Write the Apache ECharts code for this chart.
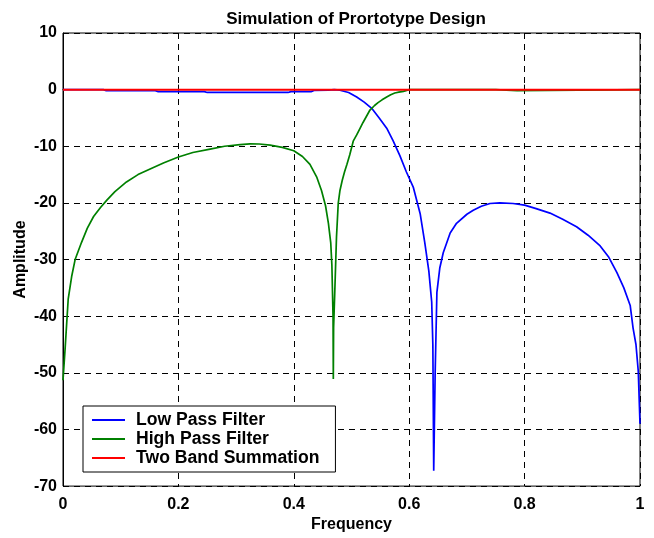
<!DOCTYPE html>
<html>
<head>
<meta charset="utf-8">
<script src="https://cdn.jsdelivr.net/npm/echarts@6/dist/echarts.min.js"></script>
<style>
html,body{margin:0;padding:0;background:#fff;}
#chart{width:654px;height:538px;}
</style>
</head>
<body>
<div id="chart"></div>
<script>
// Low pass filter response
const lpFreq = [0, 0.07, 0.075, 0.16, 0.165, 0.245, 0.25, 0.39, 0.395, 0.43, 0.435, 0.46, 0.47, 0.48, 0.495, 0.509, 0.522, 0.535, 0.548, 0.561, 0.572, 0.584, 0.595, 0.607, 0.619, 0.627, 0.634, 0.639, 0.641, 0.6425, 0.645, 0.648, 0.653, 0.659, 0.671, 0.682, 0.7, 0.711, 0.725, 0.74, 0.757, 0.78, 0.8, 0.82, 0.844, 0.866, 0.89, 0.91, 0.931, 0.946, 0.96, 0.972, 0.983, 0.988, 0.993, 0.997, 1.0];
const lpAmp  = [0, 0, -0.2, -0.2, -0.35, -0.35, -0.5, -0.5, -0.35, -0.35, -0.15, -0.1, 0, -0.1, -0.5, -1.3, -2.2, -3.3, -5, -6.8, -9, -11.7, -14.5, -17.2, -21.9, -27, -32, -37.5, -45, -67.3, -50, -35.8, -31.5, -28.8, -25.3, -23.6, -22, -21.3, -20.6, -20.1, -20, -20.1, -20.4, -21, -21.8, -22.9, -24.2, -25.7, -27.6, -29.6, -32.3, -35, -38.1, -42.1, -45, -49.7, -59];
// High pass filter response
const hpFreq = [0, 0.0035, 0.009, 0.015, 0.021, 0.032, 0.042, 0.053, 0.065, 0.076, 0.09, 0.11, 0.13, 0.151, 0.175, 0.2, 0.225, 0.255, 0.28, 0.307, 0.324, 0.34, 0.359, 0.38, 0.4, 0.415, 0.428, 0.44, 0.448, 0.455, 0.46, 0.464, 0.466, 0.468, 0.4685, 0.469, 0.471, 0.474, 0.477, 0.48, 0.484, 0.488, 0.492, 0.497, 0.503, 0.509, 0.515, 0.52, 0.532, 0.54, 0.546, 0.553, 0.561, 0.568, 0.575, 0.582, 0.59, 0.6, 0.75, 0.752, 0.787, 0.79, 1.0];
const hpAmp  = [-51.3, -46, -37, -33, -30, -27, -24.5, -22.4, -20.8, -19.5, -18, -16.3, -15, -14, -12.9, -11.9, -11.1, -10.5, -10, -9.7, -9.56, -9.6, -9.8, -10.2, -10.8, -11.8, -13.2, -15.5, -17.8, -20.5, -23.6, -27, -31, -40, -51.1, -42, -35.8, -26, -20.1, -17.8, -16, -14.5, -13.2, -11.5, -9.1, -8, -6.8, -5.8, -3.6, -2.8, -2.3, -1.8, -1.3, -0.9, -0.6, -0.45, -0.3, 0, 0, -0.2, -0.2, 0, 0];
// Two band summation
const sumFreq = [0, 1];
const sumAmp  = [0, 0];

const xTicks = [0, 0.2, 0.4, 0.6, 0.8, 1];
const yTicks = [-70, -60, -50, -40, -30, -20, -10, 0, 10];

const zip = (a, b) => a.map((v, i) => [v, b[i]]);
const FONT = 'Liberation Sans, Arial, sans-serif';

const chart = echarts.init(document.getElementById('chart'), null, {renderer: 'canvas'});
chart.setOption({
  backgroundColor: '#fff',
  animation: false,
  title: {
    text: 'Simulation of Prortotype Design',
    left: 351, top: 6, textAlign: 'center',
    textStyle: {fontFamily: FONT, fontSize: 17, fontWeight: 'bold', color: '#000'}
  },
  grid: {left: 63, right: 14, top: 33, bottom: 45, show: true, borderColor: '#000', borderWidth: 1, backgroundColor: '#fff'},
  legend: {
    orient: 'vertical', left: 83, top: 406,
    backgroundColor: '#fff', borderColor: '#000', borderWidth: 1,
    padding: [5, 16, 5, 9], itemWidth: 33, itemHeight: 2, itemGap: 1,
    icon: 'rect',
    textStyle: {fontFamily: FONT, fontSize: 17.6, fontWeight: 'bold', color: '#000', lineHeight: 18, padding: [0, 0, 0, 6]},
    data: ['Low Pass Filter', 'High Pass Filter', 'Two Band Summation']
  },
  xAxis: {
    type: 'value', min: 0, max: 1, interval: 0.2,
    name: 'Frequency', nameLocation: 'middle', nameGap: 30,
    nameTextStyle: {fontFamily: FONT, fontSize: 16, fontWeight: 'bold', color: '#000'},
    axisLine: {show: true, lineStyle: {color: '#000', width: 1}},
    axisTick: {show: true, inside: true, length: 5, lineStyle: {color: '#000'}},
    axisLabel: {fontFamily: FONT, fontSize: 16, fontWeight: 'bold', color: '#000', margin: 10,
      formatter: v => xTicks.includes(+v.toFixed(1)) ? String(+v.toFixed(1)) : ''},
    splitLine: {show: true, lineStyle: {color: '#000', type: [6, 5], width: 1}}
  },
  yAxis: {
    type: 'value', min: -70, max: 10, interval: 10,
    name: 'Amplitude', nameLocation: 'middle', nameGap: 34, nameRotate: 90, nameMoveOverlap: false,
    nameTextStyle: {fontFamily: FONT, fontSize: 16, fontWeight: 'bold', color: '#000'},
    axisLine: {show: true, lineStyle: {color: '#000', width: 1}},
    axisTick: {show: true, inside: true, length: 5, lineStyle: {color: '#000'}},
    axisLabel: {fontFamily: FONT, fontSize: 16, fontWeight: 'bold', color: '#000', margin: 6,
      formatter: v => yTicks.includes(v) ? String(v) : ''},
    splitLine: {show: true, lineStyle: {color: '#000', type: [6, 5], width: 1}}
  },
  series: [
    {name: 'Low Pass Filter', type: 'line', data: zip(lpFreq, lpAmp), symbol: 'none',
      lineStyle: {color: '#0000ff', width: 1.7}, itemStyle: {color: '#0000ff'}, z: 3},
    {name: 'High Pass Filter', type: 'line', data: zip(hpFreq, hpAmp), symbol: 'none',
      lineStyle: {color: '#008000', width: 1.7}, itemStyle: {color: '#008000'}, z: 4},
    {name: 'Two Band Summation', type: 'line', data: zip(sumFreq, sumAmp), symbol: 'none',
      lineStyle: {color: '#ff0000', width: 2}, itemStyle: {color: '#ff0000'}, z: 5}
  ]
});
</script>
</body>
</html>
